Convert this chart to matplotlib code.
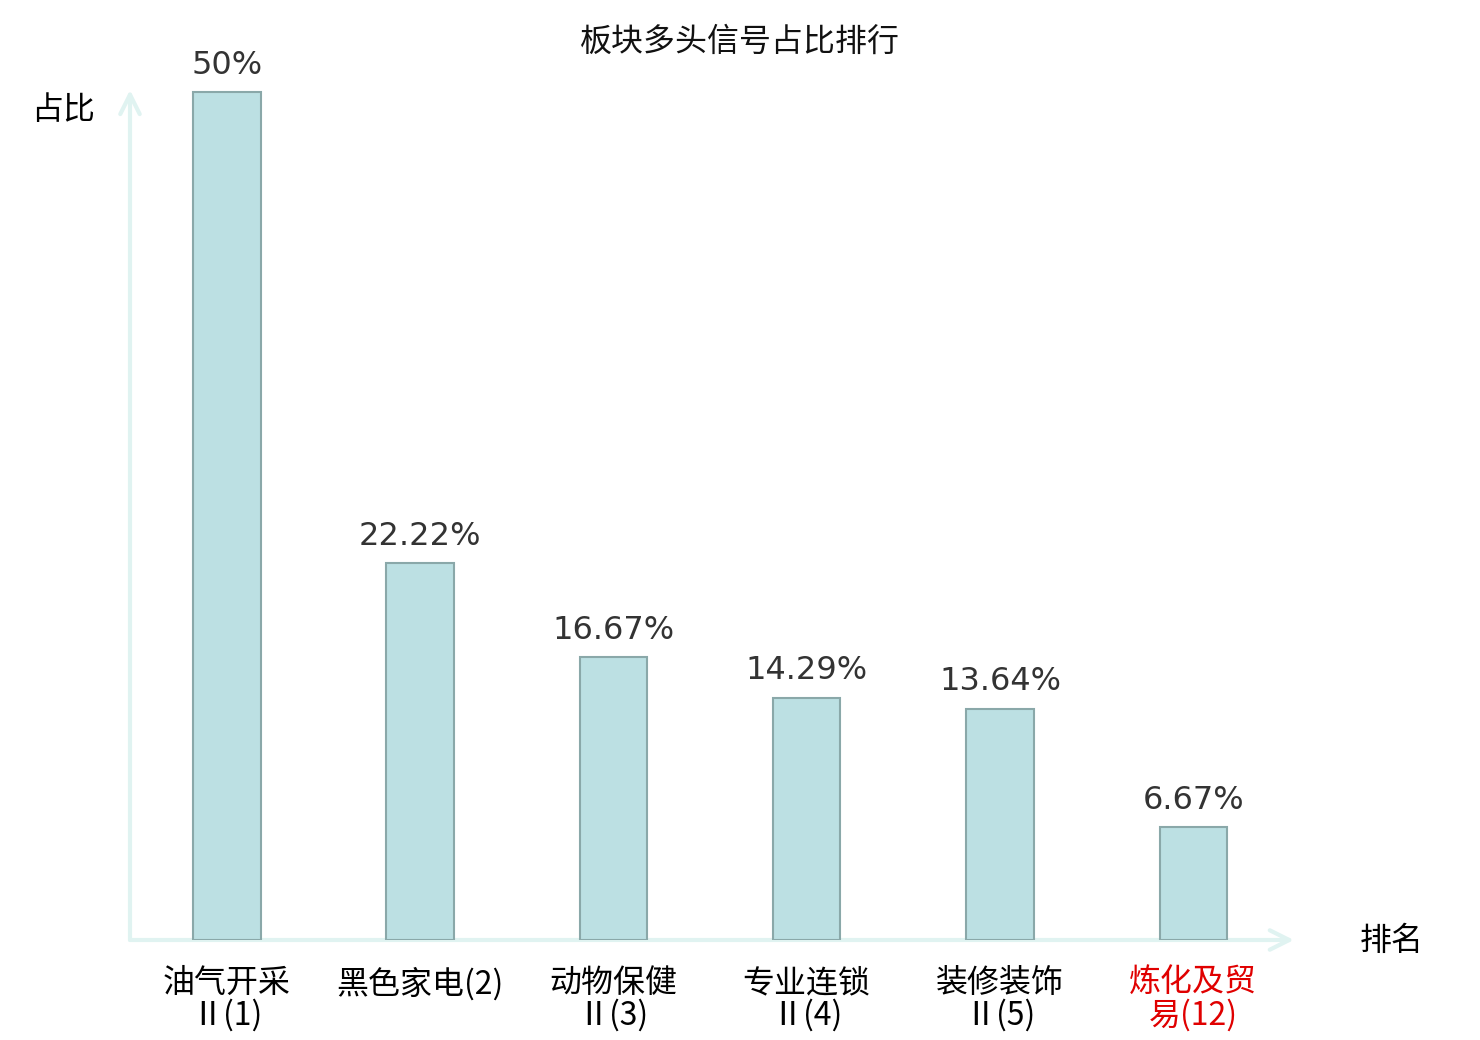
import matplotlib.pyplot as plt

plt.rcParams['font.family'] = ['Noto Sans CJK SC', 'DejaVu Sans']

# data
categories = ['油气开采\nⅡ(1)', '黑色家电(2)', '动物保健\nⅡ(3)', '专业连锁\nⅡ(4)',
              '装修装饰\nⅡ(5)', '炼化及贸\n易(12)']
values = [50, 22.22, 16.67, 14.29, 13.64, 6.67]
value_labels = ['50%', '22.22%', '16.67%', '14.29%', '13.64%', '6.67%']
label_colors = ['#000000', '#000000', '#000000', '#000000', '#000000', '#e00000']

axis_color = '#e0f3f1'
bar_color = '#bce0e3'
edge_color = '#8aa8a9'

fig = plt.figure(figsize=(14.8, 10.4), dpi=100)
ax = fig.add_axes([130 / 1480, 100 / 1040, 1160 / 1480, 850 / 1040])

x = list(range(len(values)))
ax.bar(x, values, width=0.35, color=bar_color, edgecolor=edge_color, linewidth=1.5, zorder=3)

for xi, v, lab in zip(x, values, value_labels):
    ax.annotate(lab, (xi, v), xytext=(0, 8), textcoords='offset points',
                ha='center', va='bottom', fontsize=23, color='#333333',
                family='DejaVu Sans')

ax.set_xlim(-0.5, 5.5)
ax.set_ylim(0, 50.1)

for s in ax.spines.values():
    s.set_visible(False)
ax.set_yticks([])
ax.set_xticks([])

# axis lines with arrows
ax.annotate('', xy=(5.52, 0), xytext=(-0.5, 0), xycoords='data',
            arrowprops=dict(arrowstyle='->', color=axis_color, lw=3,
                            mutation_scale=35, shrinkA=0, shrinkB=0),
            annotation_clip=False, zorder=2)
ax.annotate('', xy=(-0.5, 50.1), xytext=(-0.5, 0), xycoords='data',
            arrowprops=dict(arrowstyle='->', color=axis_color, lw=3,
                            mutation_scale=35, shrinkA=0, shrinkB=0),
            annotation_clip=False, zorder=2)

# category labels
for xi, cat, c in zip(x, categories, label_colors):
    ax.text(xi, -1.6, cat, ha='center', va='top', fontsize=23, color=c,
            linespacing=1.0)

fig.text(740 / 1480, 1 - 42 / 1040, '板块多头信号占比排行', ha='center', va='center',
         fontsize=23, color='#111111')
fig.text(63 / 1480, 1 - 110 / 1040, '占比', ha='center', va='center', fontsize=23)
fig.text(1392 / 1480, 1 - 941 / 1040, '排名', ha='center', va='center', fontsize=23)

fig.savefig('out.png', dpi=100)
